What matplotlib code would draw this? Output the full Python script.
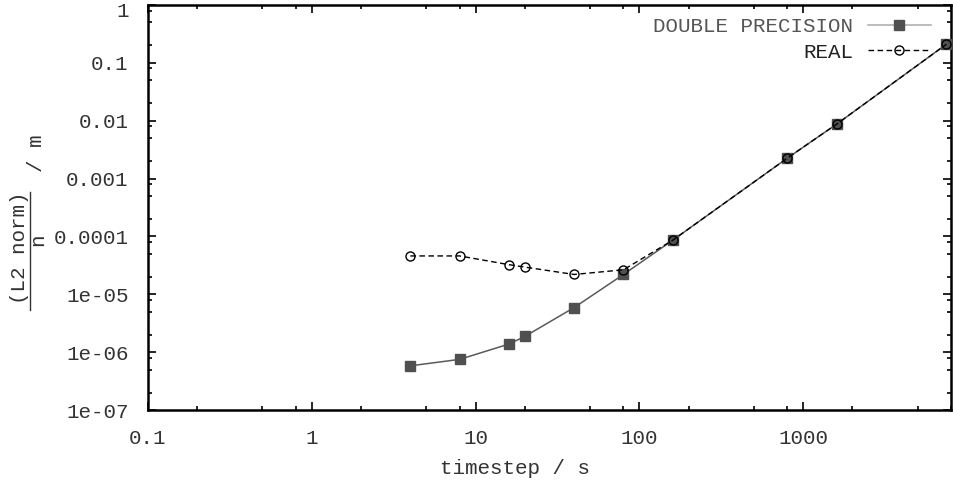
import matplotlib
matplotlib.use('Agg')
import matplotlib.pyplot as plt
import matplotlib.transforms as mtransforms
from matplotlib.ticker import LogLocator, FixedLocator, NullFormatter

plt.rcParams['font.family'] = ['Liberation Mono', 'DejaVu Sans Mono']

# timestep in s
timestep = [4, 8, 16, 20, 40, 80, 160, 800, 1600, 7500]
# L2 norm / n in m
double_prec = [5.8e-7, 7.5e-7, 1.38e-6, 1.87e-6, 5.9e-6, 2.2e-5, 8.6e-5, 2.25e-3, 8.7e-3, 0.21]
real_prec = [4.6e-5, 4.6e-5, 3.25e-5, 2.95e-5, 2.2e-5, 2.65e-5, 8.6e-5, 2.25e-3, 8.7e-3, 0.21]

x_ticks = [0.1, 1, 10, 100, 1000]
x_labels = ['0.1', '1', '10', '100', '1000']
y_ticks = [1e-7, 1e-6, 1e-5, 1e-4, 1e-3, 1e-2, 1e-1, 1]
y_labels = ['1e-07', '1e-06', '1e-05', '0.0001', '0.001', '0.01', '0.1', '1']

txt = '#333333'
fs = 15

fig = plt.figure(figsize=(9.54, 4.87), dpi=100)
ax = fig.add_axes([148 / 954, 1 - 410 / 487, (951 - 148) / 954, (410 - 5) / 487])

ax.plot(timestep, double_prec, '-', color='#5a5a5a', lw=1.1, marker='s', ms=6.5,
        mfc='#505050', mec='#505050', label='DOUBLE PRECISION', clip_on=False, zorder=3)
ax.plot(timestep, real_prec, '--', color='black', lw=1.0, dashes=(4, 2.5), marker='o', ms=6.5,
        mfc='none', mec='black', mew=1.0, label='REAL', clip_on=False, zorder=4)

ax.set_xscale('log')
ax.set_yscale('log')
ax.set_xlim(0.1, 8000)
ax.set_ylim(1e-7, 1)

ax.xaxis.set_major_locator(FixedLocator(x_ticks))
ax.set_xticklabels(x_labels)
ax.yaxis.set_major_locator(FixedLocator(y_ticks))
ax.set_yticklabels(y_labels)
ax.xaxis.set_minor_locator(LogLocator(base=10, subs=(2, 5, 8), numticks=20))
ax.yaxis.set_minor_locator(LogLocator(base=10, subs=(2, 5, 8), numticks=20))
ax.xaxis.set_minor_formatter(NullFormatter())
ax.yaxis.set_minor_formatter(NullFormatter())

ax.tick_params(which='both', direction='in', top=True, right=True, colors='black',
               labelcolor=txt, labelsize=fs)
ax.tick_params(which='major', length=6, width=1.2)
ax.tick_params(which='minor', length=3, width=1.2)
ax.tick_params(axis='x', pad=14)
ax.tick_params(axis='y', pad=14)
for s in ax.spines.values():
    s.set_linewidth(1.8)

# top "1" label sits a little lower so it is not cut off
top_lab = ax.get_yticklabels()[-1]
top_lab.set_transform(top_lab.get_transform() +
                      mtransforms.ScaledTranslation(0, -3 / 72, fig.dpi_scale_trans))

# axis labels
fig.text(515 / 954, 1 - 468 / 487, 'timestep / s', ha='center', va='center', fontsize=fs, color=txt)
fig.text(20 / 954, 1 - 248 / 487, '(L2 norm)', rotation=90, ha='center', va='center', fontsize=fs, color=txt)
fig.text(38 / 954, 1 - 240 / 487, 'n', rotation=90, ha='center', va='center', fontsize=fs, color=txt)
fig.text(37 / 954, 1 - 153 / 487, '/ m', rotation=90, ha='center', va='center', fontsize=fs, color=txt)
fig.add_artist(plt.Line2D([30 / 954, 30 / 954], [1 - 310 / 487, 1 - 192 / 487], color='#333333', lw=1.0))

leg = ax.legend(loc='upper right', markerfirst=False, frameon=False, fontsize=fs,
                handlelength=3.0, handletextpad=0.7, labelspacing=0.3,
                borderaxespad=0.1, bbox_to_anchor=(1 - 10 / 803, 1 - 2 / 405))
leg.get_texts()[0].set_color('#555555')
leg.get_texts()[1].set_color('#222222')
leg.get_lines()[0].set_color('#aaaaaa')

fig.savefig('out.png', dpi=100)
